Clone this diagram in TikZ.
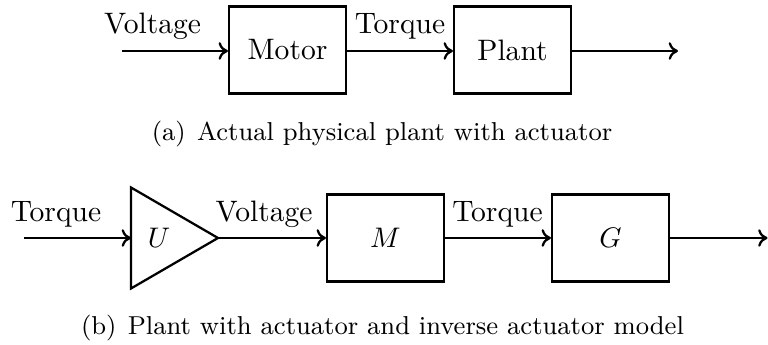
\documentclass[tikz,border=0pt]{standalone}
\usepackage{tikz}
\usetikzlibrary{arrows.meta}

\tikzset{
  blk/.style={draw, line width=0.8pt, minimum width=41.3pt, minimum height=30.7pt, inner sep=0pt},
  sig/.style={line width=0.8pt, -{To[length=3.3pt, width=6.2pt]}},
  lbl/.style={anchor=base, inner sep=0pt},
  subcap/.style={anchor=base, inner sep=0pt, font=\fontsize{9.15}{11}\selectfont},
}

\begin{document}
\begin{tikzpicture}[x=0.3533pt, y=-0.3533pt, line cap=butt, line join=miter,
    font=\fontsize{10.45}{12.5}\selectfont]

  %% ════ (a) top row ════
  \coordinate (vin) at (122.0,51.0);
  \node[blk] (motor) at (287.5,50.0) {Motor};
  \node[blk] (plant) at (512.5,50.0) {Plant};
  \coordinate (pout) at (678.0,51.0);

  \draw[sig] (vin) -- (vin -| motor.west);
  \draw[sig] (motor.east |- vin) -- (plant.west |- vin);
  \draw[sig] (plant.east |- vin) -- (pout);

  \node[lbl] (lvolt) at (152.5,34.0) {Voltage};
  \node[lbl] (ltorq) at (400.0,34.0) {Torque};

  \node[subcap] (capa) at (382.0,141.0) {(a)\hspace{4pt}Actual physical plant with actuator};

  %% ════ (b) bottom row ════
  \coordinate (tin) at (24.0,238.0);
  % amplifier triangle, drawn by hand
  \coordinate (uin) at (131.0,238.0);
  \coordinate (uout) at (218.0,238.0);
  \draw[line width=0.8pt] (131.0,187.5) -- (uout) -- (131.0,288.5) -- cycle;
  \node (amp) at (159.0,238.0) {$U$};
  \node[blk] (mblk) at (385.5,238.0) {$M$};
  \node[blk] (gblk) at (610.5,238.0) {$G$};
  \coordinate (gout) at (767.5,238.0);

  \draw[sig] (tin) -- (uin);
  \draw[sig] (uout) -- (mblk.west);
  \draw[sig] (mblk.east) -- (gblk.west);
  \draw[sig] (gblk.east) -- (gout);

  \node[lbl] (ltorq2) at (56.0,222.0) {Torque};
  \node[lbl] (lvolt2) at (264.0,222.0) {Voltage};
  \node[lbl] (ltorq3) at (497.5,222.0) {Torque};

  \node[subcap] (capb) at (382.5,335.0) {(b)\hspace{4pt}Plant with actuator and inverse actuator model};

  % fix the canvas
  \pgfresetboundingbox
  \path[use as bounding box] (0,0) rectangle (768,345);
\end{tikzpicture}
\end{document}
